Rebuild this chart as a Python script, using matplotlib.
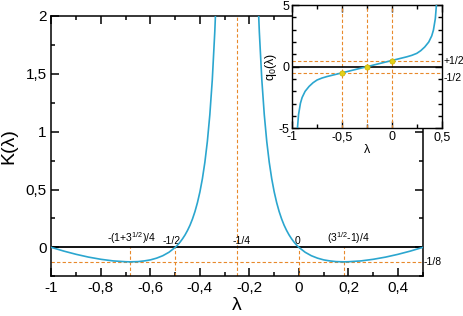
import numpy as np
import matplotlib
matplotlib.use("Agg")
import matplotlib.pyplot as plt
from matplotlib.ticker import MultipleLocator

plt.rcParams['font.family'] = ['Liberation Sans', 'DejaVu Sans']
plt.rcParams['mathtext.default'] = 'regular'
plt.rcParams['axes.unicode_minus'] = False

# K(lambda), two branches around the pole at -1/4
lam_left = [-1.0, -0.975, -0.95, -0.9, -0.85, -0.8, -0.75, -0.7, -0.683, -0.65,
            -0.625, -0.6, -0.575, -0.55, -0.525, -0.5, -0.49, -0.48, -0.47, -0.46,
            -0.45, -0.44, -0.43, -0.42, -0.41, -0.40, -0.39, -0.38, -0.37, -0.36,
            -0.35, -0.34, -0.335]
k_left = [0.0, -0.016, -0.032, -0.060, -0.084, -0.103, -0.117, -0.124, -0.125, -0.123,
          -0.117, -0.108, -0.093, -0.072, -0.042, 0.0, 0.021, 0.046, 0.075, 0.108,
          0.147, 0.192, 0.246, 0.310, 0.387, 0.480, 0.594, 0.736, 0.915, 1.146,
          1.450, 1.862, 2.124]
lam_right = [-0.165, -0.16, -0.15, -0.14, -0.13, -0.12, -0.11, -0.10, -0.09, -0.08,
             -0.07, -0.06, -0.05, -0.04, -0.03, -0.02, -0.01, 0.0, 0.025, 0.05,
             0.075, 0.1, 0.125, 0.15, 0.183, 0.2, 0.25, 0.3, 0.35, 0.4,
             0.45, 0.475, 0.5]
k_right = [2.124, 1.862, 1.450, 1.146, 0.915, 0.736, 0.594, 0.480, 0.387, 0.310,
           0.246, 0.192, 0.147, 0.108, 0.075, 0.046, 0.021, 0.0, -0.042, -0.072,
           -0.093, -0.108, -0.117, -0.123, -0.125, -0.124, -0.117, -0.103, -0.084, -0.060,
           -0.032, -0.016, 0.0]

# q0(lambda) for the inset
lam_q = [-0.97, -0.947, -0.936, -0.917, -0.9, -0.87, -0.83, -0.79, -0.75, -0.70,
         -0.65, -0.60, -0.55, -0.50, -0.45, -0.35, -0.25, -0.15, -0.05, 0.0,
         0.05, 0.1, 0.15, 0.2, 0.25, 0.29, 0.33, 0.37, 0.40, 0.417,
         0.436, 0.447, 0.47]
q0 = [-8.0, -5.0, -3.9, -2.97, -2.5, -2.0, -1.6, -1.3, -1.08, -0.92,
      -0.8, -0.7, -0.6, -0.5, -0.4, -0.2, 0.0, 0.2, 0.4, 0.5,
      0.6, 0.7, 0.8, 0.92, 1.08, 1.3, 1.6, 2.0, 2.5, 2.97,
      3.9, 5.0, 8.0]

# special points
lam_marks = [-0.683, -0.5, -0.25, 0.0, 0.183]
mark_labels = [r'-(1+3$^{1/2}$)/4', '-1/2', '-1/4', '0', r'(3$^{1/2}$-1)/4']
label_x = [-0.678, -0.513, -0.231, -0.004, 0.198]
dots_x = [-0.5, -0.25, 0.0]
dots_y = [-0.5, 0.0, 0.5]

xticks = [-1, -0.8, -0.6, -0.4, -0.2, 0, 0.2, 0.4]
xticklabels = ['-1', '-0,8', '-0,6', '-0,4', '-0,2', '0', '0,2', '0,4']
yticks = [0, 0.5, 1, 1.5, 2]
yticklabels = ['0', '0,5', '1', '1,5', '2']
in_xticks = [-1, -0.5, 0, 0.5]
in_xticklabels = ['-1', '-0,5', '0', '0,5']
in_yticks = [-5, 0, 5]
in_yticklabels = ['-5', '0', '5']

blue = '#2ba6cf'
orange = '#e8892b'

fig = plt.figure(figsize=(4.63, 3.16), dpi=100)
ax = fig.add_axes([0.111, 0.1256, 0.802, 0.8238])

ax.plot(lam_left, k_left, color=blue, lw=1.2, zorder=4)
ax.plot(lam_right, k_right, color=blue, lw=1.2, zorder=4)
ax.axhline(0, color='black', lw=1.3, zorder=3)
ax.axhline(-0.125, color=orange, lw=0.8, ls=(0, (3, 2)), zorder=2)
for lm in lam_marks:
    if lm == -0.25:
        ax.plot([lm, lm], [-0.25, 2], color=orange, lw=0.8, ls=(0, (3, 2)), zorder=2)
    else:
        ax.plot([lm, lm], [-0.25, 0], color=orange, lw=0.8, ls=(0, (3, 2)), zorder=2)
for lx, txt in zip(label_x, mark_labels):
    ax.text(lx, 0.012, txt, fontsize=7.5, ha='center', va='bottom')
ax.text(0.505, -0.125, '-1/8', fontsize=7.5, ha='left', va='center')

ax.set_xlim(-1, 0.5)
ax.set_ylim(-0.25, 2)
ax.set_xticks(xticks)
ax.set_xticklabels(xticklabels, fontsize=11)
ax.set_yticks(yticks)
ax.set_yticklabels(yticklabels, fontsize=11)
ax.xaxis.set_minor_locator(MultipleLocator(0.1))
ax.yaxis.set_minor_locator(MultipleLocator(0.25))
ax.tick_params(which='both', direction='in', top=True, right=True, width=1.1)
ax.tick_params(which='major', length=6)
ax.tick_params(which='minor', length=3)
for s in ax.spines.values():
    s.set_linewidth(1.1)
ax.set_xlabel('λ', fontsize=14, labelpad=1)
ax.set_ylabel('K(λ)', fontsize=14, labelpad=6)

# inset
ins = fig.add_axes([0.631, 0.594, 0.323, 0.39])
ins.plot(lam_q, q0, color=blue, lw=1.2, zorder=4)
ins.axhline(0, color='black', lw=1.2, zorder=3)
for yv in [0.5, -0.5]:
    ins.axhline(yv, color=orange, lw=0.8, ls=(0, (3, 2)), zorder=2)
for xv in dots_x:
    ins.axvline(xv, color=orange, lw=0.8, ls=(0, (3, 2)), zorder=2)
ins.scatter(dots_x, dots_y, s=14, color='#e3d11a', edgecolor='#c9b400', lw=0.5, zorder=5)
ins.text(0.515, 0.5, '+1/2', fontsize=7.5, ha='left', va='center')
ins.text(0.515, -0.5, '-1/2', fontsize=7.5, ha='left', va='top')
ins.set_xlim(-1, 0.5)
ins.set_ylim(-5, 5)
ins.set_xticks(in_xticks)
ins.set_xticklabels(in_xticklabels, fontsize=9)
ins.set_yticks(in_yticks)
ins.set_yticklabels(in_yticklabels, fontsize=9)
ins.xaxis.set_minor_locator(MultipleLocator(0.25))
ins.yaxis.set_minor_locator(MultipleLocator(1))
ins.tick_params(which='both', direction='in', top=True, right=True, width=1.0, pad=2)
ins.tick_params(which='major', length=5)
ins.tick_params(which='minor', length=3)
for s in ins.spines.values():
    s.set_linewidth(1.0)
ins.set_xlabel('λ', fontsize=9, labelpad=1)
ins.set_ylabel(r'q$_0$(λ)', fontsize=9, labelpad=0)

fig.savefig('out.png', dpi=100)
